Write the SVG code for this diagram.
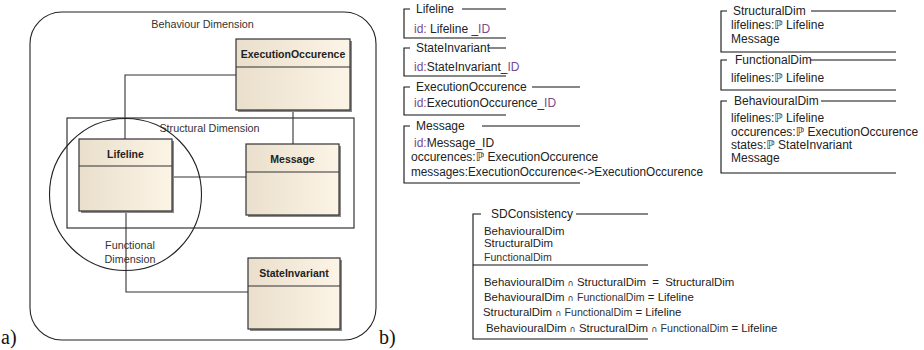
<svg xmlns="http://www.w3.org/2000/svg" width="924" height="350" viewBox="0 0 924 350">
  <defs>
    <linearGradient id="cls" x1="0" y1="0" x2="1" y2="0">
      <stop offset="0" stop-color="#eadfcc"/>
      <stop offset="1" stop-color="#fcf4e6"/>
    </linearGradient>
    <style>
      .frame { fill: none; stroke: #222; stroke-width: 1.1; }
      .cls { fill: url(#cls); stroke: #333; stroke-width: 1.2; }
      .shadow { fill: #8a8a8a; }
      .sep { stroke: #333; stroke-width: 1.1; }
      .conn { fill: none; stroke: #333; stroke-width: 1.1; }
      .lbl { font-family: "Liberation Sans", Arial, sans-serif; font-size: 10.8px; fill: #333; text-anchor: middle; }
      .hdr { font-family: "Liberation Sans", Arial, sans-serif; font-size: 10.5px; font-weight: bold; fill: #222; text-anchor: middle; }
      .cap { font-family: "Liberation Serif", "Times New Roman", serif; font-size: 20px; fill: #111; }
      .zl { fill: none; stroke: #111; stroke-width: 1.1; }
      .zt { font-family: "Liberation Sans", Arial, "DejaVu Sans", sans-serif; font-size: 12px; fill: #222; }
      .zs { font-family: "Liberation Sans", Arial, "DejaVu Sans", sans-serif; font-size: 11.4px; fill: #222; }
      .sm { font-size: 10.6px; fill: #333; }
      .cap-op { font-family: "DejaVu Sans", sans-serif; font-size: 8.5px; fill: #333; }
      .id { fill: #7b4a8c; }
    </style>
  </defs>

  <!-- (a) layered dimensions of the sequence diagram -->
  <g id="behaviour-dimension">
    <rect class="frame" x="30" y="12" width="346" height="328" rx="32" ry="32"/>
    <text class="lbl" x="202.5" y="28">Behaviour Dimension</text>
  </g>
  <g id="structural-dimension">
    <rect class="frame" x="67" y="118" width="287" height="110"/>
    <text class="lbl" x="209.5" y="132">Structural Dimension</text>
  </g>

  <g id="connectors">
    <polyline class="conn" points="236,75 125,75 125,139"/>
    <line class="conn" x1="293" y1="110" x2="293" y2="144"/>
    <line class="conn" x1="172" y1="177" x2="246" y2="177"/>
    <polyline class="conn" points="126,211 126,292 248,292"/>
  </g>

  <g id="ExecutionOccurence">
    <rect class="shadow" x="238" y="41" width="114" height="71"/>
    <rect class="cls" x="236" y="39" width="114" height="71"/>
    <line class="sep" x1="236" y1="67" x2="350" y2="67"/>
    <text class="hdr" x="293" y="58">ExecutionOccurence</text>
  </g>
  <g id="Lifeline">
    <rect class="shadow" x="81" y="141" width="93" height="72"/>
    <rect class="cls" x="79" y="139" width="93" height="72"/>
    <line class="sep" x1="79" y1="166" x2="172" y2="166"/>
    <text class="hdr" x="125.5" y="158">Lifeline</text>
  </g>
  <g id="Message">
    <rect class="shadow" x="248" y="146" width="93" height="71"/>
    <rect class="cls" x="246" y="144" width="93" height="71"/>
    <line class="sep" x1="246" y1="172" x2="339" y2="172"/>
    <text class="hdr" x="292.5" y="163">Message</text>
  </g>
  <g id="StateInvariant">
    <rect class="shadow" x="250" y="260" width="92" height="71"/>
    <rect class="cls" x="248" y="258" width="92" height="71"/>
    <line class="sep" x1="248" y1="286" x2="340" y2="286"/>
    <text class="hdr" x="294" y="277">StateInvariant</text>
  </g>

  <g id="functional-dimension">
    <circle class="frame" cx="125.5" cy="194.5" r="76"/>
    <text class="lbl" x="130" y="249">Functional</text>
    <text class="lbl" x="130" y="263">Dimension</text>
  </g>

  <text class="cap" x="1" y="344">a)</text>
  <text class="cap" x="379" y="344">b)</text>

  <!-- (b) Z schemas -->
  <g id="schema-Lifeline">
    <path class="zl" d="M410,9 H404 V38 H506 M462,9 H506"/>
    <text class="zt" x="416" y="13">Lifeline</text>
    <text class="zt" x="414" y="33"><tspan class="id">id:</tspan> Lifeline _<tspan class="id">ID</tspan></text>
  </g>
  <g id="schema-StateInvariant">
    <path class="zl" d="M410,48 H404 V76 H506 M488,48 H506"/>
    <text class="zt" x="416" y="52">StateInvariant</text>
    <text class="zt" x="414" y="71"><tspan class="id">id:</tspan>StateInvariant_<tspan class="id">ID</tspan></text>
  </g>
  <g id="schema-ExecutionOccurence">
    <path class="zl" d="M410,87 H404 V115 H506 M532,87 H580"/>
    <text class="zt" x="416" y="91">ExecutionOccurence</text>
    <text class="zt" x="414" y="107"><tspan class="id">id:</tspan>ExecutionOccurence_<tspan class="id">ID</tspan></text>
  </g>
  <g id="schema-Message">
    <path class="zl" d="M410,126 H404 V183 H580 M482,126 H580"/>
    <text class="zt" x="416" y="130">Message</text>
    <text class="zt" x="414" y="147"><tspan class="id">id:</tspan>Message_ID</text>
    <text class="zt" x="411" y="161">occurences:ℙ ExecutionOccurence</text>
    <text class="zt" x="411" y="176" textLength="292" lengthAdjust="spacingAndGlyphs">messages:ExecutionOccurence&lt;-&gt;ExecutionOccurence</text>
  </g>

  <g id="schema-StructuralDim">
    <path class="zl" d="M727,11 H721 V52 H896 M811,11 H896"/>
    <text class="zt" x="733" y="15">StructuralDim</text>
    <text class="zt" x="731" y="29">lifelines:ℙ Lifeline</text>
    <text class="zt" x="731" y="43">Message</text>
  </g>
  <g id="schema-FunctionalDim">
    <path class="zl" d="M727,60 H721 V90 H896 M810,60 H896"/>
    <text class="zt" x="735" y="64" font-size="11.2">FunctionalDim</text>
    <text class="zt" x="731" y="82">lifelines:ℙ Lifeline</text>
  </g>
  <g id="schema-BehaviouralDim">
    <path class="zl" d="M727,101 H721 V173 H896 M821,101 H896"/>
    <text class="zt" x="734" y="105" font-size="11.6">BehaviouralDim</text>
    <text class="zt" x="731" y="122">lifelines:ℙ Lifeline</text>
    <text class="zt" x="731" y="136">occurences:ℙ ExecutionOccurence</text>
    <text class="zt" x="731" y="149">states:ℙ StateInvariant</text>
    <text class="zt" x="731" y="162">Message</text>
  </g>

  <g id="schema-SDConsistency">
    <path class="zl" d="M481,214 H473 V339 H648 M576,214 H648 M473,265 H648"/>
    <text class="zt" x="491" y="218" font-size="11.4">SDConsistency</text>
    <text class="zs" x="484" y="235">BehaviouralDim</text>
    <text class="zs" x="484" y="247">StructuralDim</text>
    <text class="zs sm" x="484" y="261">FunctionalDim</text>
    <text class="zs" x="484" y="286" xml:space="preserve">BehaviouralDim <tspan class="cap-op">∩</tspan> StructuralDim  =  StructuralDim</text>
    <text class="zs" x="484" y="301">BehaviouralDim <tspan class="cap-op">∩</tspan> <tspan class="sm">FunctionalDim</tspan> = Lifeline</text>
    <text class="zs" x="483" y="316">StructuralDim <tspan class="cap-op">∩</tspan> <tspan class="sm">FunctionalDim</tspan> = Lifeline</text>
    <text class="zs" x="486" y="332">BehaviouralDim <tspan class="cap-op">∩</tspan> StructuralDim <tspan class="cap-op">∩</tspan> <tspan class="sm">FunctionalDim</tspan> = Lifeline</text>
  </g>
</svg>
